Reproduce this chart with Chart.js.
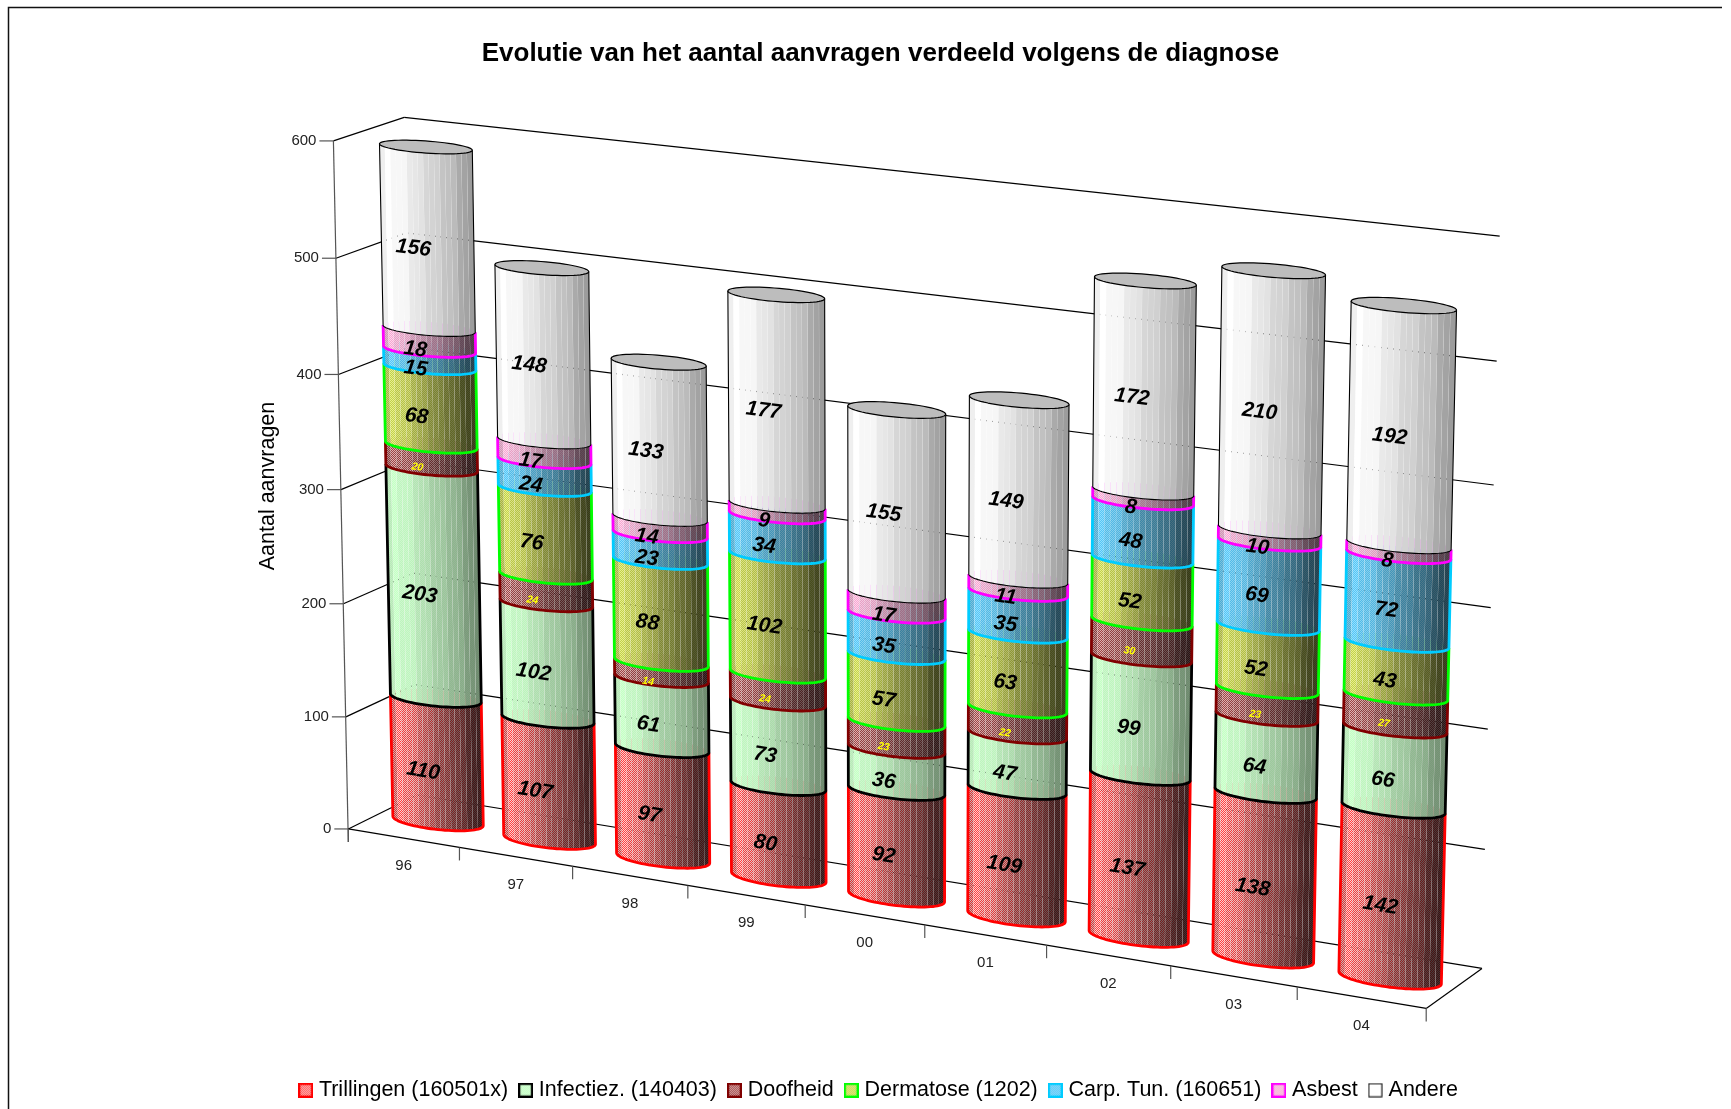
<!DOCTYPE html>
<html>
<head>
<meta charset="utf-8">
<title>Evolutie aanvragen</title>
<script src="https://cdn.jsdelivr.net/npm/chart.js@4"></script>
<style>
  html, body { margin: 0; padding: 0; background: #fff; }
  canvas { display: block; }
</style>
</head>
<body>
<canvas id="chart" width="1731" height="1109"></canvas>
<script>
// values
const years = ['96', '97', '98', '99', '00', '01', '02', '03', '04'];
const trillingen = [110, 107, 97, 80, 92, 109, 137, 138, 142];
const infectiez = [203, 102, 61, 73, 36, 47, 99, 64, 66];
const doofheid = [20, 24, 14, 24, 23, 22, 30, 23, 27];
const dermatose = [68, 76, 88, 102, 57, 63, 52, 52, 43];
const carpTun = [15, 24, 23, 34, 35, 35, 48, 69, 72];
const asbest = [18, 17, 14, 9, 17, 11, 8, 10, 8];
const andere = [156, 148, 133, 177, 155, 149, 172, 210, 192];

const FONT = '"Liberation Sans", Arial, sans-serif';

// dither colours, outline, how fast the shade falls off to the right
const looks = [
  { a: '#ff4040', b: '#ffd0d0', line: '#ff0000', lw: 2.8, gamma: 2.8 },
  { a: '#c4ffc4', b: '#d6ffd6', line: '#000000', lw: 2.8, gamma: 1.2 },
  { a: '#9a4444', b: '#e0b0b0', line: '#800000', lw: 2.8, gamma: 2.5 },
  { a: '#c2d24c', b: '#eaf08c', line: '#00ff00', lw: 2.8, gamma: 2.5 },
  { a: '#58c4f4', b: '#90e0ff', line: '#00ccff', lw: 2.8, gamma: 2.2 },
  { a: '#f4a8d0', b: '#ffd4ec', line: '#ff00ff', lw: 2.8, gamma: 2.2 },
  { a: '#ffffff', b: '#ffffff', line: '#000000', lw: 1.1, gamma: 1 }
];

// --- 3D view: (u along years, v up, w into the page), all 0..1 -> screen
// fitted on where the corners and ticks of the box sit in the picture
const anchors = [
  [0, 0, 0, 349, 829], [1, 0, 0, 1427, 1008], [1, 0, 1, 1482, 968], [0, 0, 1, 416, 795],
  [0, 1, 0, 333, 141], [0, 1, 1, 405, 118], [1, 1, 1, 1500, 235],
  [1 / 9, 0, 0, 460, 848], [2 / 9, 0, 0, 572, 867], [3 / 9, 0, 0, 688, null], [4 / 9, 0, 0, 805, null],
  [5 / 9, 0, 0, 924, null], [6 / 9, 0, 0, 1047, null], [7 / 9, 0, 0, 1170, null], [8 / 9, 0, 0, 1297, null],
  [0, 1 / 6, 0, null, 716], [0, 2 / 6, 0, null, 603], [0, 3 / 6, 0, null, 489], [0, 4 / 6, 0, null, 374], [0, 5 / 6, 0, 336, 258],
  [1, 5 / 6, 1, 1497, 361], [1, 4 / 6, 1, 1493, 484],
  [0.5 / 9, 0, 0.5, 439, 822], [0.5 / 9, 590 / 600, 0.5, 425, 147],
  [8.5 / 9, 0, 0.5, 1390, 978], [8.5 / 9, 553 / 600, 0.5, 1404, 304.5]
];

function fitView(pts) {
  const rows = [], rhs = [];
  pts.forEach(([u, v, w, x, y]) => {
    if (x !== null) {
      rows.push([u, v, w, 1, 0, 0, 0, 0, -x * u, -x * v, -x * w]);
      rhs.push(x);
    }
    if (y !== null) {
      rows.push([0, 0, 0, 0, u, v, w, 1, -y * u, -y * v, -y * w]);
      rhs.push(y);
    }
  });
  const n = 11;
  const m = [];
  for (let i = 0; i < n; i++) {
    m.push(new Array(n + 1).fill(0));
    rows.forEach((r, k) => {
      for (let j = 0; j < n; j++) m[i][j] += r[i] * r[j];
      m[i][n] += r[i] * rhs[k];
    });
  }
  for (let c = 0; c < n; c++) {
    let p = c;
    for (let r = c + 1; r < n; r++) if (Math.abs(m[r][c]) > Math.abs(m[p][c])) p = r;
    [m[c], m[p]] = [m[p], m[c]];
    for (let r = 0; r < n; r++) {
      if (r === c) continue;
      const f = m[r][c] / m[c][c];
      for (let j = c; j <= n; j++) m[r][j] -= f * m[c][j];
    }
  }
  return m.map((row, i) => row[n] / row[i]);
}
const H = fitView(anchors);
function view(u, v, w) {
  const d = H[8] * u + H[9] * v + H[10] * w + 1;
  return [(H[0] * u + H[1] * v + H[2] * w + H[3]) / d, (H[4] * u + H[5] * v + H[6] * w + H[7]) / d];
}

const DEPTH_R = 0.2;   // cylinder radius in depth units
const FACETS = 17;
const SEAM = 0.0008;

// --- fills
function hexRgb(h) {
  return [1, 3, 5].map(i => parseInt(h.substr(i, 2), 16));
}
function shadeAt(q) {
  const stops = [[0, 0.88], [0.06, 1], [0.25, 0.96], [0.5, 0.85], [0.75, 0.75], [1, 0.58]];
  for (let i = 1; i < stops.length; i++) {
    if (q <= stops[i][0]) {
      const t = (q - stops[i - 1][0]) / (stops[i][0] - stops[i - 1][0]);
      return stops[i - 1][1] + t * (stops[i][1] - stops[i - 1][1]);
    }
  }
  return 0.58;
}
function tile(ctx, look, s) {
  const c = document.createElement('canvas');
  c.width = c.height = 2;
  const g = c.getContext('2d');
  const tone = hex => 'rgb(' + hexRgb(hex).map(x => Math.round(x * s)).join(',') + ')';
  g.fillStyle = tone(look.a);
  g.fillRect(0, 0, 2, 2);
  g.fillStyle = tone(look.b);
  g.fillRect(0, 0, 1, 1);
  g.fillRect(1, 1, 1, 1);
  return ctx.createPattern(c, 'repeat');
}
const facetFills = new Map();
function facetFill(ctx, d, k) {
  const key = d + '/' + k;
  if (!facetFills.has(key)) {
    const q = (k + 0.5) / FACETS;
    const wobble = [0, 0.012, -0.012][k % 3];
    const s = Math.min(1, Math.pow(shadeAt(q), looks[d].gamma) + wobble);
    facetFills.set(key, tile(ctx, looks[d], s));
  }
  return facetFills.get(key);
}
function legendIcon(look) {
  const c = document.createElement('canvas');
  c.width = c.height = 15;
  const g = c.getContext('2d');
  g.fillStyle = tile(g, look, 1);
  g.fillRect(0, 0, 15, 15);
  g.strokeStyle = look.line;
  g.lineWidth = look.lw < 2 ? 1 : 2.5;
  g.strokeRect(1, 1, 13, 13);
  return c;
}
const legendIcons = looks.map(legendIcon);

// --- drawing in the 3D view, everything starts from the chart's own scales
function toU(chart, px) { return (px - chart.chartArea.left) / chart.chartArea.width; }
function toV(chart, py) { return (chart.chartArea.bottom - py) / chart.chartArea.height; }

function segLine(ctx, a, b) {
  ctx.beginPath();
  ctx.moveTo(a[0], a[1]);
  ctx.lineTo(b[0], b[1]);
  ctx.stroke();
}

function drawBox(chart) {
  const ctx = chart.ctx, xs = chart.scales.x, ys = chart.scales.y;
  ctx.save();
  ctx.strokeStyle = '#000';
  ctx.lineWidth = 1.2;
  ys.ticks.forEach(t => {
    const v = toV(chart, ys.getPixelForValue(t.value));
    const f = view(0, v, 0);
    segLine(ctx, f, view(0, v, 1));
    segLine(ctx, view(0, v, 1), view(1, v, 1));
    ctx.strokeStyle = '#555';
    segLine(ctx, [f[0] - 14, f[1]], f);
    ctx.strokeStyle = '#000';
    ctx.fillStyle = '#222';
    ctx.font = '15px ' + FONT;
    ctx.textAlign = 'right';
    ctx.textBaseline = 'middle';
    ctx.fillText(t.label, f[0] - 17, f[1]);
  });
  // front vertical axis, runs on a bit under the floor
  const a0 = view(0, 0, 0);
  ctx.strokeStyle = '#555';
  segLine(ctx, view(0, 1, 0), [a0[0], a0[1] + 13]);
  // floor
  ctx.strokeStyle = '#000';
  segLine(ctx, a0, view(1, 0, 0));
  segLine(ctx, view(1, 0, 0), view(1, 0, 1));
  // year ticks and labels
  ctx.textAlign = 'center';
  ctx.textBaseline = 'middle';
  ctx.font = '15px ' + FONT;
  ctx.fillStyle = '#222';
  for (let i = 0; i <= years.length; i++) {
    const p = view(toU(chart, xs.getPixelForValue(i - 0.5)), 0, 0);
    ctx.strokeStyle = '#555';
    segLine(ctx, p, [p[0], p[1] + 13]);
    if (i < years.length) {
      const c = view(toU(chart, xs.getPixelForValue(i)), 0, 0);
      ctx.fillText(xs.getLabelForValue(i), c[0], c[1] + 28);
    }
  }
  // axis title
  ctx.save();
  ctx.translate(268, 486);
  ctx.rotate(-Math.PI / 2);
  ctx.font = '21.5px ' + FONT;
  ctx.fillStyle = '#000';
  ctx.fillText(ys.options.title.text, 0, 0);
  ctx.restore();
  ctx.restore();
}

function drawColumn(chart, i) {
  const ctx = chart.ctx;
  const count = chart.data.datasets.length;
  for (let d = 0; d < count; d++) {
    const bar = chart.getDatasetMeta(d).data[i];
    const uc = toU(chart, bar.x);
    const ru = bar.width / 2 / chart.chartArea.width;
    const v0 = toV(chart, bar.base), v1 = toV(chart, bar.y);
    const ring = (t, v) => view(uc + ru * Math.cos(t), v, 0.5 + DEPTH_R * Math.sin(t));
    // silhouette angle: where the ellipse is widest on the screen
    const pa = view(uc + ru, v0, 0.5), pb = view(uc, v0, 0.5 + DEPTH_R), pc = view(uc, v0, 0.5);
    const phi = Math.atan2(pb[0] - pc[0], pa[0] - pc[0]);
    const tL = Math.PI + phi, tR = 2 * Math.PI + phi;
    const angle = q => tL + Math.acos(1 - 2 * Math.min(1, Math.max(0, q)));
    const look = looks[d];

    // strips of even width on the screen, a hair apart so what is behind shows
    for (let k = 0; k < FACETS; k++) {
      const q0 = k / FACETS + SEAM, q1 = (k + 1) / FACETS - SEAM;
      ctx.beginPath();
      for (let s = 0; s <= 4; s++) {
        const p = ring(angle(q0 + (q1 - q0) * s / 4), v0);
        s ? ctx.lineTo(p[0], p[1]) : ctx.moveTo(p[0], p[1]);
      }
      for (let s = 4; s >= 0; s--) {
        const p = ring(angle(q0 + (q1 - q0) * s / 4), v1);
        ctx.lineTo(p[0], p[1]);
      }
      ctx.closePath();
      ctx.fillStyle = facetFill(ctx, d, k);
      ctx.fill();
    }

    // outline: own colour on the two sides and the lower front arc
    ctx.strokeStyle = look.line;
    ctx.lineWidth = look.lw;
    ctx.lineJoin = 'round';
    ctx.beginPath();
    let p = ring(tL, v1);
    ctx.moveTo(p[0], p[1]);
    for (let s = 0; s <= 40; s++) {
      p = ring(tL + (tR - tL) * s / 40, v0);
      ctx.lineTo(p[0], p[1]);
    }
    p = ring(tR, v1);
    ctx.lineTo(p[0], p[1]);
    ctx.stroke();

    // top disc: the next piece covers it except through its seams
    ctx.beginPath();
    for (let s = 0; s <= 60; s++) {
      p = ring(2 * Math.PI * s / 60, v1);
      s ? ctx.lineTo(p[0], p[1]) : ctx.moveTo(p[0], p[1]);
    }
    ctx.closePath();
    if (d === count - 1) {
      ctx.fillStyle = '#bdbdbd';
      ctx.fill();
      ctx.lineWidth = 1.2;
      ctx.strokeStyle = '#000';
      ctx.stroke();
    } else {
      ctx.fillStyle = look.line === '#000000' ? facetFill(ctx, d, 8) : look.line;
      ctx.globalAlpha = 0.3;
      ctx.fill();
      ctx.globalAlpha = 1;
    }
  }
}

function drawValues(chart) {
  const ctx = chart.ctx;
  ctx.save();
  ctx.textAlign = 'center';
  ctx.textBaseline = 'middle';
  chart.data.datasets.forEach((ds, d) => {
    chart.getDatasetMeta(d).data.forEach((bar, i) => {
      const u = toU(chart, bar.x);
      const v = (toV(chart, bar.base) + toV(chart, bar.y)) / 2;
      const w = 0.5 - DEPTH_R;
      const p = view(u, v, w), q = view(u + 0.02, v, w);
      ctx.save();
      ctx.translate(p[0], p[1] + 5);
      ctx.rotate(Math.atan2(q[1] - p[1], q[0] - p[0]));
      ctx.font = 'italic bold ' + (d === 2 ? 10.5 : 21) + 'px ' + FONT;
      ctx.fillStyle = d === 2 ? '#ffff00' : '#000';
      ctx.fillText(String(ds.data[i]), 0, 0);
      ctx.restore();
    });
  });
  ctx.restore();
}

const cylinders = {
  id: 'cylinders',
  beforeDraw(chart) {
    const ctx = chart.ctx;
    ctx.save();
    ctx.strokeStyle = '#111';
    ctx.lineWidth = 1.5;
    ctx.beginPath();
    ctx.moveTo(8.5, 1109);
    ctx.lineTo(8.5, 7.5);
    ctx.lineTo(1722, 7.5);
    ctx.stroke();
    ctx.restore();
  },
  beforeDatasetsDraw(chart) {
    drawBox(chart);
    years.forEach((y, i) => drawColumn(chart, i));
    drawValues(chart);
    return false;
  }
};

const names = ['Trillingen (160501x)', 'Infectiez. (140403)', 'Doofheid', 'Dermatose (1202)', 'Carp. Tun. (160651)', 'Asbest', 'Andere'];
const series = [trillingen, infectiez, doofheid, dermatose, carpTun, asbest, andere];

const data = {
  labels: years,
  datasets: series.map((values, d) => ({
    label: names[d],
    data: values,
    backgroundColor: looks[d].a,
    borderColor: looks[d].line
  }))
};

const config = {
  type: 'bar',
  data: data,
  plugins: [cylinders],
  options: {
    responsive: false,
    animation: false,
    events: [],
    layout: { padding: { left: 30, bottom: -2 } },
    datasets: { bar: { categoryPercentage: 1, barPercentage: 0.78 } },
    scales: {
      x: { stacked: true, display: false },
      y: {
        stacked: true,
        display: false,
        min: 0,
        max: 600,
        ticks: { stepSize: 100 },
        title: { text: 'Aantal aanvragen' }
      }
    },
    plugins: {
      tooltip: { enabled: false },
      title: {
        display: true,
        text: 'Evolutie van het aantal aanvragen verdeeld volgens de diagnose',
        color: '#000',
        font: { family: FONT, size: 26, weight: 'bold' },
        padding: { top: 38, bottom: 10 }
      },
      legend: {
        position: 'bottom',
        labels: {
          color: '#000',
          font: { family: FONT, size: 21.5 },
          usePointStyle: true,
          pointStyleWidth: 5,
          boxHeight: 15,
          padding: 15,
          generateLabels(chart) {
            const items = Chart.defaults.plugins.legend.labels.generateLabels(chart);
            items.forEach(it => { it.pointStyle = legendIcons[it.datasetIndex]; });
            return items;
          }
        }
      }
    }
  }
};

const myChart = new Chart(document.getElementById('chart'), config);
</script>
</body>
</html>
